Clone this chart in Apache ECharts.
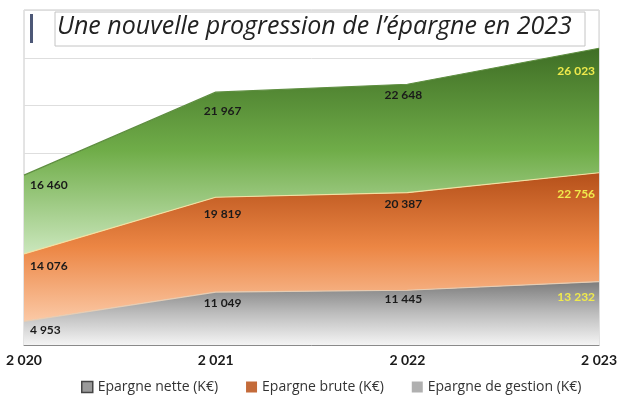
<!DOCTYPE html>
<html>
<head>
<meta charset="utf-8">
<script src="https://cdn.jsdelivr.net/npm/echarts@6/dist/echarts.min.js"></script>
<style>
html,body{margin:0;padding:0;background:#fff;}
#chart{width:620px;height:401px;}
</style>
</head>
<body>
<div id="chart"></div>
<script>
const years = ['2 020', '2 021', '2 022', '2 023'];
const seriesNames = ['Epargne nette (K€)', 'Epargne brute (K€)', 'Epargne de gestion (K€)'];
const epargneNette = [4953, 11049, 11445, 13232];
const epargneBrute = [14076, 19819, 20387, 22756];
const epargneGestion = [16460, 21967, 22648, 26023];
const titleText = 'Une nouvelle progression de l\u2019épargne en 2023';

function fmt(v) { return String(v).replace(/\B(?=(\d{3})+(?!\d))/g, ' '); }

// label layout per category index (style only)
const labelAlign = ['left', 'center', 'center', 'right'];
const labelDx = [6, 7, -4, -4];
const labelDist = {
  nette: [3, 5, 3, 9],
  brute: [6, 11, 5, 15],
  gestion: [4, 13, 5, 17]
};

function buildData(values, key) {
  return values.map(function (v, i) {
    return {
      value: v,
      label: {
        align: labelAlign[i],
        distance: labelDist[key][i],
        offset: [labelDx[i], 0],
        color: i === values.length - 1 ? '#f0ea4c' : '#1a1a1a'
      }
    };
  });
}

function grad(stops) {
  return new echarts.graphic.LinearGradient(0, 0, 0, 1, stops);
}

const chart = echarts.init(document.getElementById('chart'), null, { renderer: 'canvas' });

const labelBase = {
  show: true,
  position: 'bottom',
  fontFamily: 'Lato',
  fontWeight: 'bold',
  fontSize: 12,
  formatter: function (p) { return fmt(p.value); }
};

function makeSeries(name, values, key, areaStops, lineColor) {
  return {
    name: name,
    type: 'line',
    stack: 'total',
    data: buildData(values, key),
    symbol: 'circle',
    symbolSize: 0.01,
    showSymbol: true,
    silent: true,
    itemStyle: { color: areaStops[1].color },
    lineStyle: { color: lineColor, width: 1.2 },
    areaStyle: { color: grad(areaStops), opacity: 1 },
    label: labelBase,
    emphasis: { disabled: true }
  };
}

const option = {
  animation: false,
  backgroundColor: '#ffffff',
  title: {
    text: titleText,
    left: 57,
    top: 14,
    padding: 0,
    z: 100,
    textStyle: {
      fontFamily: 'Open Sans',
      fontStyle: 'italic',
      fontWeight: 'normal',
      fontSize: 25,
      color: '#222222'
    }
  },
  graphic: [
    {
      type: 'rect',
      z: 50,
      shape: { x: 55, y: 12, width: 530, height: 34 },
      style: { fill: '#ffffff', stroke: '#c4c4c4', lineWidth: 1 }
    },
    {
      type: 'rect',
      z: 50,
      shape: { x: 30, y: 14, width: 3, height: 29 },
      style: { fill: '#4d5877' }
    }
  ],
  legend: {
    left: 76,
    top: 375,
    itemWidth: 11,
    itemHeight: 11,
    itemGap: 28,
    textStyle: { fontFamily: 'Open Sans', fontSize: 14, color: '#333333' },
    data: [
      { name: seriesNames[0], icon: 'rect', itemStyle: { color: '#9a9a9a', borderColor: '#454545', borderWidth: 1.5 } },
      { name: seriesNames[1], icon: 'rect', itemStyle: { color: '#c46b3a', borderWidth: 0 } },
      { name: seriesNames[2], icon: 'rect', itemStyle: { color: '#b0b0b0', borderWidth: 0 } }
    ]
  },
  grid: {
    left: 24,
    right: 18,
    top: 10,
    bottom: 56,
    show: true,
    borderColor: '#c8c8c8',
    borderWidth: 1,
    backgroundColor: 'transparent'
  },
  xAxis: {
    type: 'category',
    data: years,
    boundaryGap: false,
    axisLine: { show: true, lineStyle: { color: '#8a8a8a', width: 1 } },
    axisTick: { show: false },
    splitLine: { show: false },
    axisLabel: {
      fontFamily: 'Lato',
      fontWeight: 'bold',
      fontSize: 14,
      color: '#1a1a1a',
      margin: 8
    }
  },
  yAxis: {
    type: 'value',
    min: 0,
    max: 70000,
    interval: 10000,
    axisLine: { show: false },
    axisTick: { show: false },
    axisLabel: { show: false },
    splitLine: { show: true, lineStyle: { color: '#dedede', width: 1 } }
  },
  series: [
    makeSeries(seriesNames[0], epargneNette, 'nette',
      [{ offset: 0, color: '#7c7c7c' }, { offset: 0.5, color: '#bdbdbd' }, { offset: 1, color: '#f4f4f4' }],
      '#e6cdb4'),
    makeSeries(seriesNames[1], epargneBrute, 'brute',
      [{ offset: 0, color: '#b5501a' }, { offset: 0.5, color: '#ec8644' }, { offset: 1, color: '#fbc9a6' }],
      '#f2e0a2'),
    makeSeries(seriesNames[2], epargneGestion, 'gestion',
      [{ offset: 0, color: '#3f6e25' }, { offset: 0.5, color: '#70ad49' }, { offset: 1, color: '#cbe7bd' }],
      '#5e8e40')
  ]
};

chart.setOption(option);
</script>
</body>
</html>
